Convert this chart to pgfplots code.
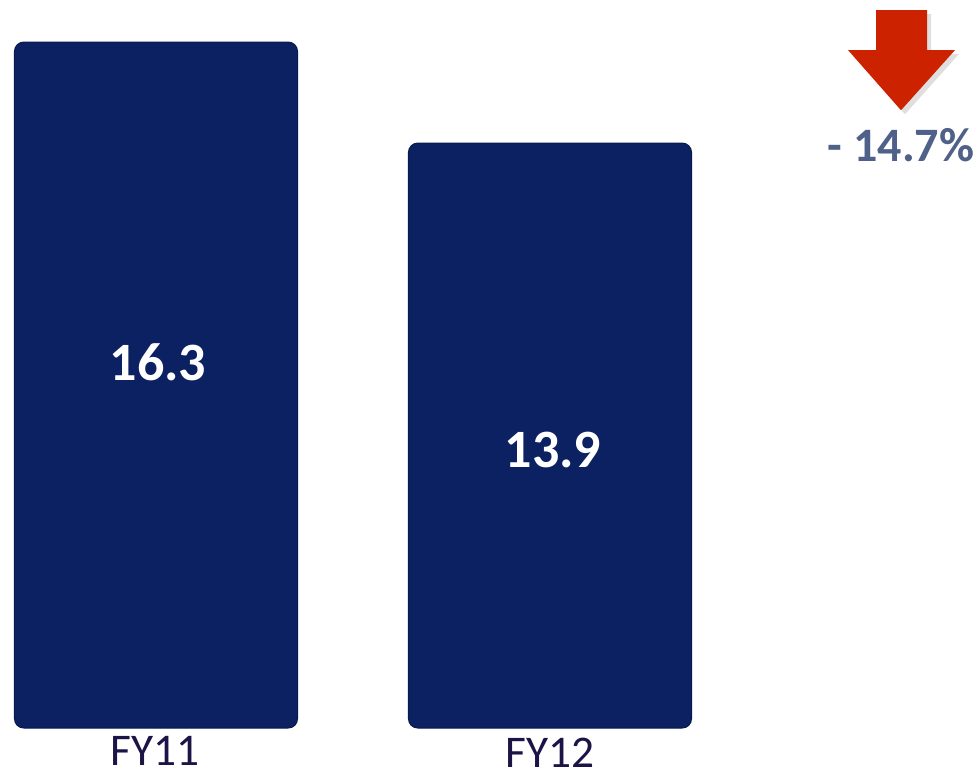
\documentclass[border=0pt]{standalone}
\usepackage{pgfplots}
\pgfplotsset{compat=1.18}
\usepackage{fontspec}
\setmainfont{Carlito}
\usetikzlibrary{shadows}
\definecolor{barblue}{HTML}{0B2162}
\definecolor{labnavy}{HTML}{1B1446}
\definecolor{pctblue}{HTML}{4F6189}
\definecolor{arrowred}{HTML}{CC2200}
\begin{document}
\begin{tikzpicture}
\begin{axis}[
  scale only axis,
  width=735pt, height=583.5pt,
  xmin=0, xmax=980,
  ymin=-1.188, ymax=17.30,
  axis lines=none,
  ticks=none,
  clip=false,
]
\path (rel axis cs:0,0) rectangle (rel axis cs:1,1);
\addplot[ybar, bar width=283, fill=barblue, draw=barblue!80!black, line width=0.8pt,
  rounded corners=7pt]
  coordinates {(156,16.3) (550,13.9)};
\node[text=white, font=\bfseries\fontsize{40.5}{44}\selectfont] at (axis cs:158,8.7) {16.3};
\node[text=white, font=\bfseries\fontsize{40.5}{44}\selectfont] at (axis cs:553,6.6) {13.9};
\node[text=labnavy, inner sep=0pt, font=\fontsize{34}{38}\selectfont] at (axis cs:155,-0.54) {FY11};
\node[text=labnavy, inner sep=0pt, font=\fontsize{34}{38}\selectfont] at (axis cs:550,-0.58) {FY12};
\fill[arrowred, drop shadow={opacity=0.25, shadow xshift=3pt, shadow yshift=-3pt}]
  (axis cs:876,17.06) -- (axis cs:927,17.06) -- (axis cs:927,16.11) -- (axis cs:955,16.11)
  -- (axis cs:901,14.68) -- (axis cs:848,16.11) -- (axis cs:876,16.11) -- cycle;
\node[text=pctblue, font=\bfseries\fontsize{36}{40}\selectfont] at (axis cs:901,13.85) {- 14.7\%};
\end{axis}
\end{tikzpicture}
\end{document}
